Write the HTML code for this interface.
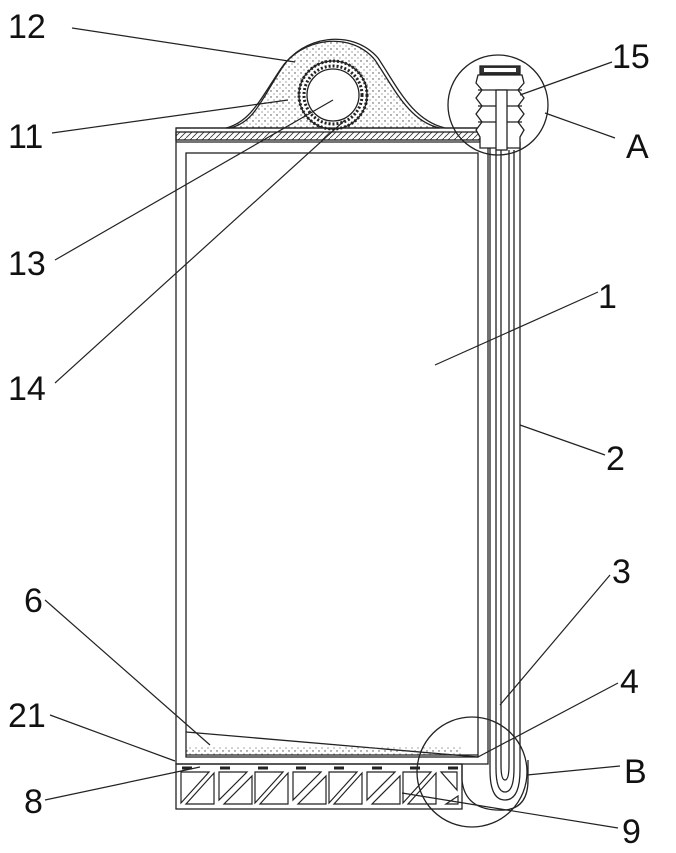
<!DOCTYPE html>
<html><head><style>body{margin:0;background:#fff}svg{display:block}text{font-family:"Liberation Sans",sans-serif;font-size:34px;fill:#111}</style></head><body>
<svg width="676" height="853" viewBox="0 0 676 853" fill="none" stroke="#222" stroke-width="1.3">
<defs>
<pattern id="dots" width="6" height="6" patternUnits="userSpaceOnUse"><circle cx="1" cy="1" r="0.7" fill="#444" stroke="none"/><circle cx="4" cy="4" r="0.6" fill="#666" stroke="none"/></pattern>
<pattern id="hatch" width="6" height="6" patternUnits="userSpaceOnUse"><path d="M0 6L6 0" stroke="#333" stroke-width="0.8"/></pattern>
</defs>
<path d="M226 128 C250 122 260 100 280 70 C300 38 350 30 375 60 C395 90 410 122 440 128 Z" fill="url(#dots)"/>
<path d="M176 128 L230 128 C255 122 262 98 282 68 C302 36 352 28 378 58 C398 88 412 120 445 128 L490 128"/>
<rect x="176" y="132" width="312" height="8" fill="url(#hatch)"/>
<line x1="176" y1="142" x2="488" y2="142"/>
<circle cx="333" cy="95" r="34" fill="#fff"/>
<circle cx="333" cy="95" r="34" stroke-dasharray="2 2" stroke-width="3"/>
<circle cx="333" cy="95" r="29" stroke-dasharray="2 2" stroke-width="3"/>
<circle cx="333" cy="95" r="26" fill="#fff"/>
<rect x="176" y="128" width="312" height="636"/>
<rect x="186" y="153" width="292" height="604"/>
<line x1="186" y1="732" x2="478" y2="757"/>
<rect x="186" y="746" width="275" height="9" fill="url(#dots)" stroke="none"/>
<line x1="186" y1="755" x2="478" y2="755"/>
<rect x="176" y="764" width="286" height="45"/>
<line x1="182" y1="768" x2="462" y2="768" stroke-dasharray="10 28" stroke-width="3"/>
<g stroke-width="1.2">
<path d="M181 772V803L209 772Z M186 804L214 773V804Z"/>
<path d="M219 772H247L219 800Z M252 776V804H224Z"/>
<path d="M255 772V803L283 772Z M260 804L288 773V804Z"/>
<path d="M293 772H321L293 800Z M326 776V804H298Z"/>
<path d="M329 772V803L357 772Z M334 804L362 773V804Z"/>
<path d="M367 772H395L367 800Z M400 776V804H372Z"/>
<path d="M403 772V803L431 772Z M408 804L436 773V804Z"/>
<path d="M441 772H457V790Z M458 796V804H446Z"/>
</g>
<path d="M490 142 V770 Q490 800 505 800 Q520 800 520 770 V142"/>
<path d="M496 150 V768 Q496 792 505 792 Q514 792 514 768 V150"/>
<path d="M501 150 V765 Q501 780 505 780 Q509 780 509 765 V150"/>
<path d="M462 764 V780 Q465 812 505 810 Q528 808 528 780 V760"/>
<path d="M478 75 L476 83 L482 90 L476 98 L482 106 L476 114 L482 122 L476 130 L480 137 V148 H520 V137 L524 130 L518 122 L524 114 L518 106 L524 98 L518 90 L524 83 L522 75 Z" fill="#fff"/>
<rect x="480" y="66" width="40" height="8" fill="#333"/>
<rect x="484" y="68" width="32" height="4" fill="#fff" stroke="none"/>
<line x1="478" y1="90" x2="522" y2="90"/><line x1="478" y1="106" x2="522" y2="106"/><line x1="478" y1="122" x2="522" y2="122"/>
<rect x="496" y="90" width="11" height="60" fill="#fff"/>
<circle cx="498" cy="105" r="50"/>
<circle cx="472" cy="772" r="55"/>
<g stroke-width="1.2">
<line x1="72" y1="28" x2="295" y2="62"/>
<line x1="52" y1="133" x2="288" y2="100"/>
<line x1="55" y1="260" x2="333" y2="100"/>
<line x1="55" y1="383" x2="345" y2="120"/>
<line x1="612" y1="62" x2="520" y2="95"/>
<line x1="615" y1="138" x2="545" y2="113"/>
<line x1="598" y1="292" x2="435" y2="365"/>
<line x1="605" y1="455" x2="520" y2="425"/>
<line x1="610" y1="575" x2="500" y2="705"/>
<line x1="618" y1="683" x2="478" y2="757"/>
<line x1="620" y1="766" x2="527" y2="775"/>
<line x1="618" y1="828" x2="402" y2="793"/>
<line x1="45" y1="600" x2="210" y2="745"/>
<line x1="50" y1="715" x2="175" y2="761"/>
<line x1="45" y1="800" x2="200" y2="767"/>
</g>
<g stroke="none">
<text x="8" y="38">12</text>
<text x="8" y="148">11</text>
<text x="8" y="275">13</text>
<text x="8" y="400">14</text>
<text x="612" y="68">15</text>
<text x="626" y="158">A</text>
<text x="598" y="308">1</text>
<text x="606" y="470">2</text>
<text x="612" y="583">3</text>
<text x="620" y="693">4</text>
<text x="624" y="783">B</text>
<text x="24" y="612">6</text>
<text x="8" y="727">21</text>
<text x="24" y="813">8</text>
<text x="622" y="843">9</text>
</g>
</svg>
</body></html>
